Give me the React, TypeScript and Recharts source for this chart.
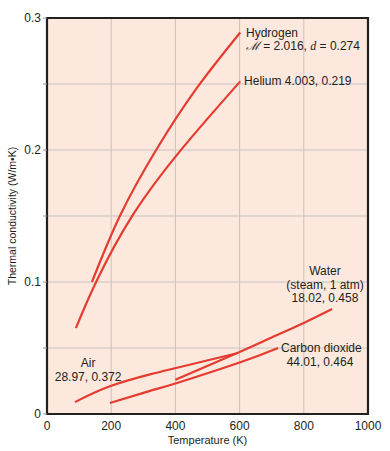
import { LineChart, Line, XAxis, YAxis, CartesianGrid, ReferenceArea, ReferenceDot, Label } from 'recharts';

// values: temperature (K) and thermal conductivity (W/m·K)
const hydrogen = [
  { t: 140, k: 0.1 },
  { t: 227, k: 0.15 },
  { t: 340, k: 0.2 },
  { t: 467, k: 0.247 },
  { t: 602, k: 0.289 },
];
const helium = [
  { t: 90, k: 0.065 },
  { t: 153, k: 0.1 },
  { t: 268, k: 0.151 },
  { t: 424, k: 0.202 },
  { t: 602, k: 0.252 },
];
const air = [
  { t: 87, k: 0.009 },
  { t: 196, k: 0.021 },
  { t: 321, k: 0.03 },
  { t: 405, k: 0.035 },
  { t: 592, k: 0.046 },
];
const water = [
  { t: 400, k: 0.026 },
  { t: 600, k: 0.047 },
  { t: 700, k: 0.058 },
  { t: 800, k: 0.069 },
  { t: 888, k: 0.0795 },
];
const carbonDioxide = [
  { t: 196, k: 0.0083 },
  { t: 321, k: 0.0175 },
  { t: 405, k: 0.0235 },
  { t: 600, k: 0.039 },
  { t: 720, k: 0.05 },
];

const xTicks = [0, 200, 400, 600, 800, 1000];
const yTicks = [0, 0.05, 0.1, 0.15, 0.2, 0.25, 0.3];

// annotation text, anchored in data coordinates
const notes = [
  { t: 620, k: 0.289, anchor: 'start', lines: ['Hydrogen', 'ℳ = 2.016, d = 0.274'] },
  { t: 614, k: 0.252, anchor: 'start', lines: ['Helium 4.003, 0.219'] },
  { t: 866, k: 0.108, anchor: 'middle', lines: ['Water', '(steam, 1 atm)', '18.02, 0.458'] },
  { t: 128, k: 0.0386, anchor: 'middle', lines: ['Air', '28.97, 0.372'] },
];

const RED = '#e63b30';
const INK = '#231f20';
const FONT = '"Liberation Sans", Arial, sans-serif';

function NoteShape(props: any, lines: string[], anchor: string) {
  const { cx, cy } = props;
  return (
    <text x={cx} y={cy} textAnchor={anchor} fontSize={12} fill={INK} fontFamily={FONT} dominantBaseline="central">
      {lines.map((l, i) => (
        <tspan key={i} x={cx} dy={i === 0 ? 0 : 13.5}>
          {l.startsWith('ℳ') ? (
            <>
              <tspan fontStyle="italic" fontFamily="serif">ℳ</tspan>
              {' = 2.016, '}
              <tspan fontStyle="italic" fontFamily="serif">d</tspan>
              {' = 0.274'}
            </>
          ) : l}
        </tspan>
      ))}
    </text>
  );
}

function Co2Shape(props: any) {
  const { cx, cy } = props;
  return (
    <text x={cx} y={cy} fontSize={12} fill={INK} fontFamily={FONT} dominantBaseline="central">
      <tspan x={cx} dy={0}>Carbon dioxide</tspan>
      <tspan x={cx + 39} dy={13.5} textAnchor="middle">44.01, 0.464</tspan>
    </text>
  );
}

export default function App() {
  const series = [hydrogen, helium, air, water, carbonDioxide];
  return (
    <div style={{ position: 'absolute', left: 0, top: 0, width: 390, height: 451, background: '#fff' }}>
      <LineChart width={390} height={451} margin={{ top: 18, right: 22, left: 0, bottom: 0 }}>
        <CartesianGrid fill="#fce8dc" stroke="#c9c2be" strokeWidth={1} />
        <XAxis
          type="number"
          dataKey="t"
          domain={[0, 1000]}
          ticks={xTicks}
          height={37}
          axisLine={false}
          tickLine={false}
          tick={{ fill: INK, fontSize: 12, fontFamily: FONT }}
          tickMargin={1}
        >
          <Label value="Temperature (K)" position="insideBottom" offset={7} style={{ fill: INK, fontSize: 11, fontFamily: FONT }} />
        </XAxis>
        <YAxis
          type="number"
          dataKey="k"
          domain={[0, 0.3]}
          ticks={yTicks}
          width={47}
          axisLine={false}
          tickSize={4}
          tickLine={{ stroke: '#9a9390' }}
          tickFormatter={(v: number) => (Math.round(v * 100) % 10 === 0 ? (v === 0 ? '0' : v.toFixed(1)) : '')}
          tick={{ fill: INK, fontSize: 12, fontFamily: FONT }}
        >
          <Label
            value="Thermal conductivity (W/m•K)"
            angle={-90}
            position="insideLeft"
            offset={12}
            style={{ fill: INK, fontSize: 10.5, fontFamily: FONT, textAnchor: 'middle' }}
          />
        </YAxis>
        {series.map((d, i) => (
          <Line
            key={i}
            data={d}
            dataKey="k"
            type="natural"
            stroke={RED}
            strokeWidth={2.2}
            dot={false}
            activeDot={false}
            isAnimationActive={false}
          />
        ))}
        <ReferenceArea x1={0} x2={1000} y1={0} y2={0.3} fill="none" stroke={INK} strokeWidth={2.2} ifOverflow="visible" />
        {notes.map((n, i) => (
          <ReferenceDot
            key={i}
            x={n.t}
            y={n.k}
            r={0}
            ifOverflow="visible"
            shape={(p: any) => NoteShape(p, n.lines, n.anchor)}
          />
        ))}
        <ReferenceDot x={729} y={0.05} r={0} ifOverflow="visible" shape={Co2Shape} />
      </LineChart>
    </div>
  );
}
